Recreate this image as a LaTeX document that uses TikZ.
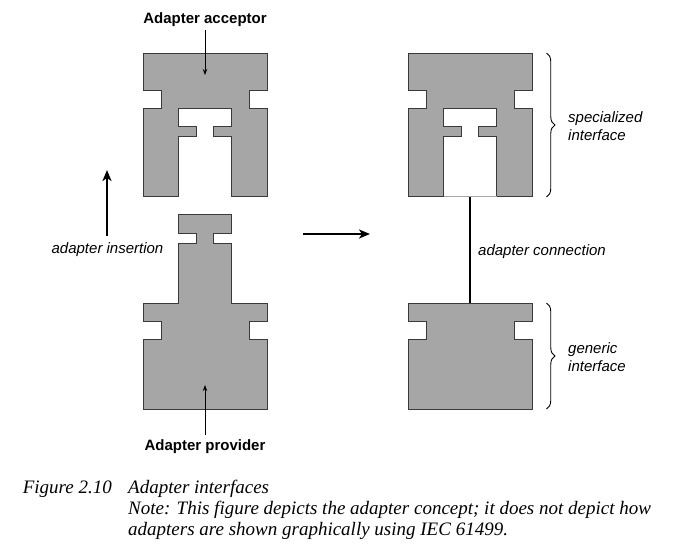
\documentclass[tikz,border=0pt]{standalone}
\usepackage{fontspec}
\setmainfont{Liberation Serif}
\setsansfont{Liberation Sans}
\usetikzlibrary{arrows.meta,decorations.pathreplacing}
\definecolor{shapegray}{HTML}{A6A6A6}
\definecolor{edgegray}{HTML}{3A3A3A}
\tikzset{
  part/.style={fill=shapegray,draw=edgegray,line width=0.9pt,line join=miter},
  lab/.style={font=\sffamily\itshape\fontsize{15}{18}\selectfont,inner sep=0pt},
  boldlab/.style={font=\sffamily\bfseries\fontsize{15}{18}\selectfont,inner sep=4pt},
  captext/.style={font=\rmfamily\itshape\fontsize{19}{21}\selectfont,inner sep=0pt},
  bigarrow/.style={line width=2.2pt,-{Stealth[length=11pt,width=9pt,inset=3pt]}},
  smallarrow/.style={line width=0.8pt,-{Stealth[length=6pt,width=4.5pt]}},
  curly/.style={line width=0.9pt,decorate,decoration={brace,amplitude=8.5pt}},
  acceptor/.pic={
    \path[part] (-62,53.3) -- (62,53.3) -- (62,90) -- (44,90) -- (44,108.3) -- (62,108.3)
      -- (62,196.7) -- (26.5,196.7) -- (26.5,136.7) -- (8.3,136.7) -- (8.3,126)
      -- (26.5,126) -- (26.5,108.3) -- (-26.5,108.3) -- (-26.5,126) -- (-8.3,126)
      -- (-8.3,136.7) -- (-26.5,136.7) -- (-26.5,196.7) -- (-62,196.7) -- (-62,108.3)
      -- (-44,108.3) -- (-44,90) -- (-62,90) -- cycle;
  },
  provider/.pic={
    \path[part] (-26.5,214.3) -- (26.5,214.3) -- (26.5,233.3) -- (8.3,233.3) -- (8.3,243.3)
      -- (26.5,243.3) -- (26.5,303.3) -- (62,303.3) -- (62,321.5) -- (44,321.5)
      -- (44,339.3) -- (62,339.3) -- (62,409.5) -- (-62,409.5) -- (-62,339.3)
      -- (-44,339.3) -- (-44,321.5) -- (-62,321.5) -- (-62,303.3) -- (-26.5,303.3)
      -- (-26.5,243.3) -- (-8.3,243.3) -- (-8.3,233.3) -- (-26.5,233.3) -- cycle;
  },
  generic/.pic={
    \path[part] (-62,303.3) -- (62,303.3) -- (62,321.5) -- (44,321.5) -- (44,339.3)
      -- (62,339.3) -- (62,409.5) -- (-62,409.5) -- (-62,339.3) -- (-44,339.3)
      -- (-44,321.5) -- (-62,321.5) -- cycle;
  }
}
\begin{document}
\begin{tikzpicture}[x=1pt,y=-1pt]
\useasboundingbox (0,0) rectangle (690,547);

% left: separate parts
\pic at (205,0) {acceptor};
\pic at (205,0) {provider};
\node[boldlab,anchor=base] (acc) at (205,23) {Adapter acceptor};
\coordinate (acctip) at (205,75);
\draw[smallarrow] (acc.south) -- (acctip);
\node[boldlab,anchor=base] (prov) at (205,450) {Adapter provider};
\coordinate (provtip) at (205,385);
\draw[smallarrow] (prov.north) -- (provtip);

% insertion arrow
\coordinate (insA) at (107,236);
\coordinate (insB) at (107,170);
\draw[bigarrow] (insA) -- (insB);
\node[lab,anchor=base] (ins) at (107.5,253.5) {adapter insertion};

% transition arrow
\coordinate (trA) at (303,234);
\coordinate (trB) at (370,234);
\draw[bigarrow] (trA) -- (trB);

% right: connected parts
\pic at (470,0) {acceptor};
\pic at (470,0) {generic};
\coordinate (cavL) at (443.5,196.7);
\coordinate (cavR) at (496.5,196.7);
\draw[gray!70,line width=0.5pt] (cavL) -- (cavR);
\coordinate (cavbot) at (470,196.7);
\coordinate (gentop) at (470,303.3);
\draw[line width=1.3pt] (cavbot) -- (gentop);
\node[lab,anchor=base west] (conn) at (478,255.5) {adapter connection};

% braces
\coordinate (sbt) at (546.5,53);
\coordinate (sbb) at (546.5,197);
\draw[curly] (sbt) -- (sbb);
\node[lab,anchor=base west,align=left] (spec) at (568,140) {specialized\\interface};
\coordinate (gbt) at (546.5,303);
\coordinate (gbb) at (546.5,409);
\draw[curly] (gbt) -- (gbb);
\node[lab,anchor=base west,align=left] (gen) at (568,371.3) {generic\\interface};

% caption
\node[captext,anchor=base east] (fig) at (112,493.3) {Figure 2.10};
\node[captext,anchor=base west] (title) at (128,493.3) {Adapter interfaces};
\node[captext,anchor=base west] (note1) at (128,514.3) {Note: This figure depicts the adapter concept; it does not depict how};
\node[captext,anchor=base west] (note2) at (128,535.3) {adapters are shown graphically using IEC 61499.};
\end{tikzpicture}
\end{document}
